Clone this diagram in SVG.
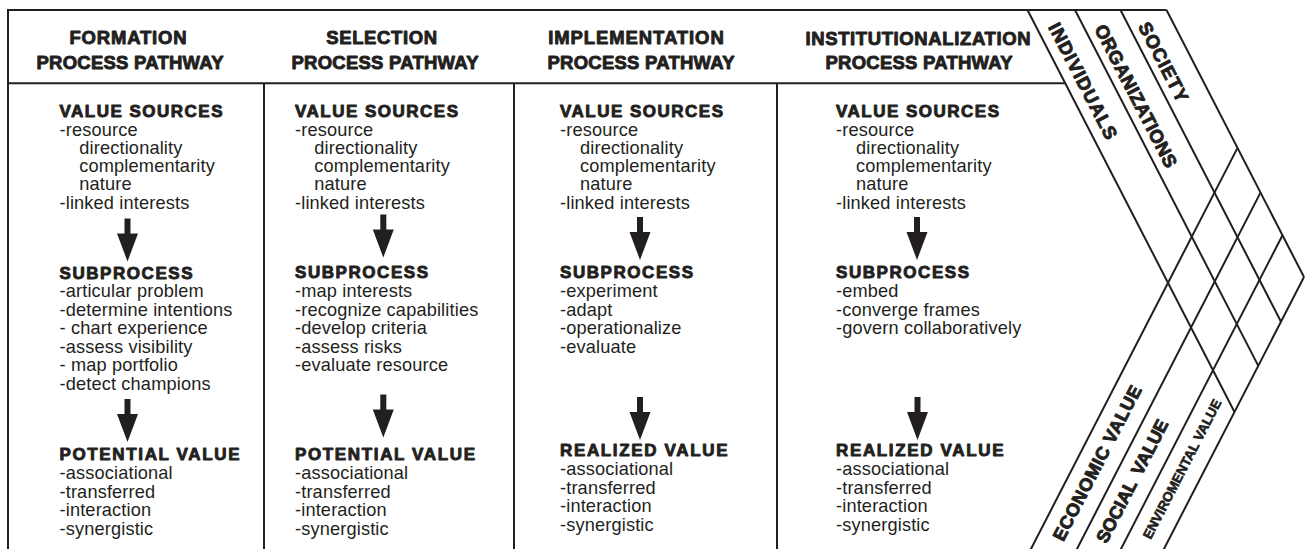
<svg xmlns="http://www.w3.org/2000/svg" width="1309" height="549" viewBox="0 0 1309 549">
<style>
.ln{stroke:#231f20;stroke-width:2;fill:none;stroke-linecap:butt}
.hd{font-family:"Liberation Sans",Arial,sans-serif;font-weight:bold;font-size:18.5px;fill:#231f20;stroke:#231f20;stroke-width:0.9;stroke-linejoin:round;text-anchor:middle}
.bh{font-family:"Liberation Sans",Arial,sans-serif;font-weight:bold;font-size:17px;fill:#231f20;stroke:#231f20;stroke-width:0.9;stroke-linejoin:round}
.tx{font-family:"Liberation Sans",Arial,sans-serif;font-size:18.2px;letter-spacing:0.15px;fill:#231f20}
.lb{font-family:"Liberation Sans",Arial,sans-serif;font-weight:bold;font-size:18.5px;fill:#231f20;stroke:#231f20;stroke-width:0.9;stroke-linejoin:round;text-anchor:middle}
.lb2{font-size:18px}
.lbs{font-size:13.5px;stroke-width:0.6}
.arr{fill:#231f20}
</style>
<defs>
<path id="arrow" d="M-3,0H3V15H10.5L0,43L-10.5,15H-3Z"/>
</defs>

<g id="frame">
<path class="ln" d="M8,549V10H1166.5"/>
<path class="ln" d="M8,83.3H1065.2"/>
<path class="ln" d="M264,83.3V549M514,83.3V549M777,83.3V549"/>
</g>

<g id="chevron">
<path class="ln" d="M1027.5,10L1234.5,412M1075,10L1258.3,365.9M1120.5,10L1281,321.7M1166.5,10L1304,277"/>
<path class="ln" d="M1029.4,552L1237.5,147.9M1075.4,552L1260.5,192.6M1119.4,552L1282.5,235.3M1162.4,552L1304,277"/>
</g>

<g id="actor-labels">
<g id="individuals" transform="translate(1083,81) rotate(62.7)"><text class="lb" x="0" y="6.5" textLength="128" lengthAdjust="spacing">INDIVIDUALS</text></g>
<g id="organizations" transform="translate(1136,96) rotate(62.7)"><text class="lb" x="0" y="6.5" textLength="158" lengthAdjust="spacing">ORGANIZATIONS</text></g>
<g id="society" transform="translate(1163.5,62) rotate(62.7)"><text class="lb" x="0" y="6.5" textLength="87" lengthAdjust="spacing">SOCIETY</text></g>
</g>

<g id="value-labels">
<g id="economic" transform="translate(1097,463) rotate(-62.7)"><text class="lb lb2" x="0" y="6.4" textLength="172" lengthAdjust="spacing">ECONOMIC VALUE</text></g>
<g id="social" transform="translate(1132,481) rotate(-62.7)"><text class="lb lb2" x="0" y="6.4" textLength="136" lengthAdjust="spacing" word-spacing="4">SOCIAL VALUE</text></g>
<g id="environmental" transform="translate(1182,469) rotate(-62.7)"><text class="lb lbs" x="0" y="4.8" textLength="155" lengthAdjust="spacing">ENVIROMENTAL VALUE</text></g>
</g>

<g id="header-formation">
<text class="hd" x="128" y="44" textLength="117" lengthAdjust="spacing">FORMATION</text>
<text class="hd" x="130" y="68.5" textLength="187" lengthAdjust="spacing">PROCESS PATHWAY</text>
</g>
<g id="header-selection">
<text class="hd" x="381.7" y="44" textLength="111" lengthAdjust="spacing">SELECTION</text>
<text class="hd" x="385" y="68.5" textLength="187" lengthAdjust="spacing">PROCESS PATHWAY</text>
</g>
<g id="header-implementation">
<text class="hd" x="636" y="44" textLength="175.5" lengthAdjust="spacing">IMPLEMENTATION</text>
<text class="hd" x="641" y="68.5" textLength="187" lengthAdjust="spacing">PROCESS PATHWAY</text>
</g>
<g id="header-institutionalization">
<text class="hd" x="918" y="44.5" textLength="225" lengthAdjust="spacing">INSTITUTIONALIZATION</text>
<text class="hd" x="919" y="68.5" textLength="187" lengthAdjust="spacing">PROCESS PATHWAY</text>
</g>

<g id="col-formation">
<text class="bh" x="59.5" y="117.3" textLength="163" lengthAdjust="spacing">VALUE SOURCES</text>
<text class="tx" x="59.5" y="135.7">-resource</text>
<text class="tx" x="79.3" y="153.9">directionality</text>
<text class="tx" x="79.3" y="172.1">complementarity</text>
<text class="tx" x="79.3" y="190.3">nature</text>
<text class="tx" x="59.5" y="208.5">-linked interests</text>
<text class="bh" x="59.5" y="278.6" textLength="133" lengthAdjust="spacing">SUBPROCESS</text>
<text class="tx" x="59.5" y="297.3">-articular problem</text>
<text class="tx" x="59.5" y="315.8">-determine intentions</text>
<text class="tx" x="59.5" y="334.3">- chart experience</text>
<text class="tx" x="59.5" y="352.8">-assess visibility</text>
<text class="tx" x="59.5" y="371.3">- map portfolio</text>
<text class="tx" x="59.5" y="389.8">-detect champions</text>
<text class="bh" x="59.5" y="459.8" textLength="180" lengthAdjust="spacing">POTENTIAL VALUE</text>
<text class="tx" x="59.5" y="479.3">-associational</text>
<text class="tx" x="59.5" y="497.8">-transferred</text>
<text class="tx" x="59.5" y="516.3">-interaction</text>
<text class="tx" x="59.5" y="534.8">-synergistic</text>
</g>

<g id="col-selection">
<text class="bh" x="295" y="117.3" textLength="163" lengthAdjust="spacing">VALUE SOURCES</text>
<text class="tx" x="295" y="135.7">-resource</text>
<text class="tx" x="314.3" y="153.9">directionality</text>
<text class="tx" x="314.3" y="172.1">complementarity</text>
<text class="tx" x="314.3" y="190.3">nature</text>
<text class="tx" x="295" y="208.5">-linked interests</text>
<text class="bh" x="295" y="278.3" textLength="133" lengthAdjust="spacing">SUBPROCESS</text>
<text class="tx" x="295" y="297">-map interests</text>
<text class="tx" x="295" y="315.6">-recognize capabilities</text>
<text class="tx" x="295" y="334.2">-develop criteria</text>
<text class="tx" x="295" y="352.8">-assess risks</text>
<text class="tx" x="295" y="371.4">-evaluate resource</text>
<text class="bh" x="295" y="460.3" textLength="180" lengthAdjust="spacing">POTENTIAL VALUE</text>
<text class="tx" x="295" y="479.3">-associational</text>
<text class="tx" x="295" y="497.8">-transferred</text>
<text class="tx" x="295" y="516.3">-interaction</text>
<text class="tx" x="295" y="534.8">-synergistic</text>
</g>

<g id="col-implementation">
<text class="bh" x="560" y="117.3" textLength="163" lengthAdjust="spacing">VALUE SOURCES</text>
<text class="tx" x="560" y="135.7">-resource</text>
<text class="tx" x="580" y="153.9">directionality</text>
<text class="tx" x="580" y="172.1">complementarity</text>
<text class="tx" x="580" y="190.3">nature</text>
<text class="tx" x="560" y="208.5">-linked interests</text>
<text class="bh" x="560" y="278.3" textLength="133" lengthAdjust="spacing">SUBPROCESS</text>
<text class="tx" x="560" y="297">-experiment</text>
<text class="tx" x="560" y="315.6">-adapt</text>
<text class="tx" x="560" y="334.2">-operationalize</text>
<text class="tx" x="560" y="352.8">-evaluate</text>
<text class="bh" x="560" y="455.5" textLength="167.5" lengthAdjust="spacing">REALIZED VALUE</text>
<text class="tx" x="560" y="475">-associational</text>
<text class="tx" x="560" y="493.5">-transferred</text>
<text class="tx" x="560" y="512">-interaction</text>
<text class="tx" x="560" y="530.5">-synergistic</text>
</g>

<g id="col-institutionalization">
<text class="bh" x="836" y="117.3" textLength="163" lengthAdjust="spacing">VALUE SOURCES</text>
<text class="tx" x="836" y="135.7">-resource</text>
<text class="tx" x="856" y="153.9">directionality</text>
<text class="tx" x="856" y="172.1">complementarity</text>
<text class="tx" x="856" y="190.3">nature</text>
<text class="tx" x="836" y="208.5">-linked interests</text>
<text class="bh" x="836" y="278.3" textLength="133" lengthAdjust="spacing">SUBPROCESS</text>
<text class="tx" x="836" y="297">-embed</text>
<text class="tx" x="836" y="315.6">-converge frames</text>
<text class="tx" x="836" y="334.2">-govern collaboratively</text>
<text class="bh" x="836" y="455.5" textLength="167.5" lengthAdjust="spacing">REALIZED VALUE</text>
<text class="tx" x="836" y="475">-associational</text>
<text class="tx" x="836" y="493.5">-transferred</text>
<text class="tx" x="836" y="512">-interaction</text>
<text class="tx" x="836" y="530.5">-synergistic</text>
</g>

<g id="connectors">
<use class="arr" href="#arrow" transform="translate(127.5,218.5)"/>
<use class="arr" href="#arrow" transform="translate(127.5,399)"/>
<use class="arr" href="#arrow" transform="translate(383.3,214.5)"/>
<use class="arr" href="#arrow" transform="translate(383.3,394.5)"/>
<use class="arr" href="#arrow" transform="translate(640,217)"/>
<use class="arr" href="#arrow" transform="translate(640,397)"/>
<use class="arr" href="#arrow" transform="translate(917,217)"/>
<use class="arr" href="#arrow" transform="translate(917.5,397)"/>
</g>
</svg>
